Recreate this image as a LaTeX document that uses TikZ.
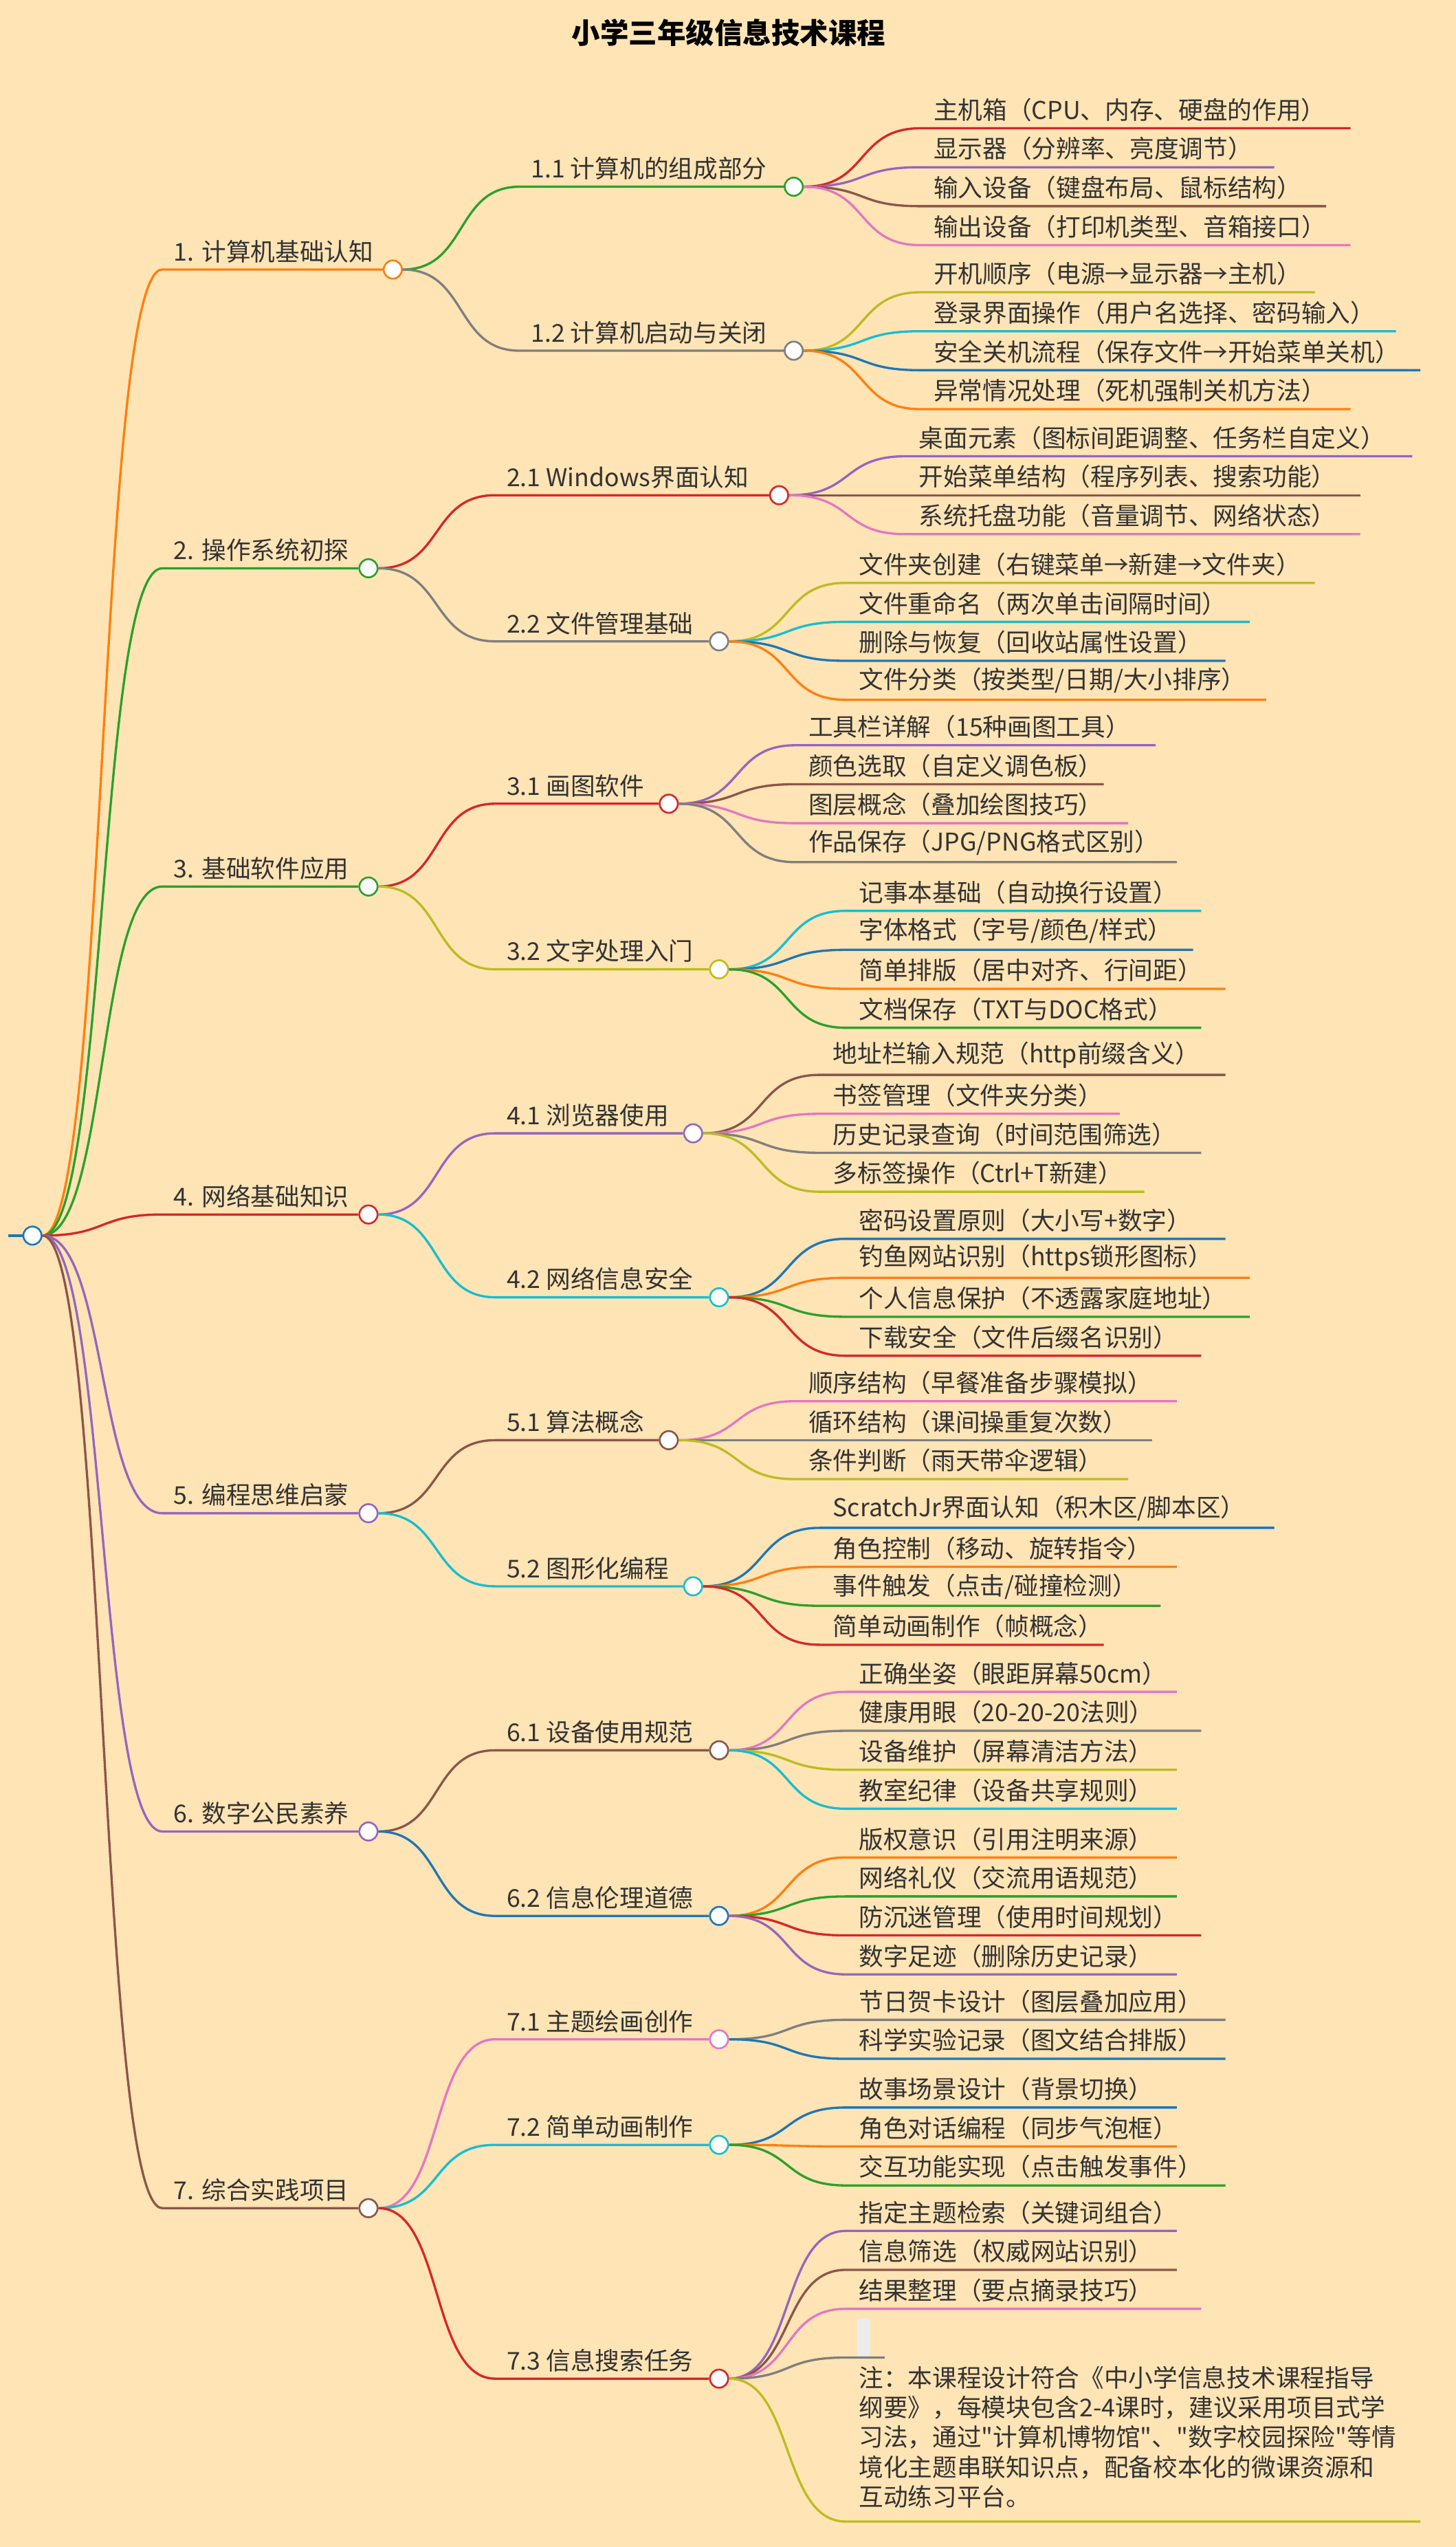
\documentclass[tikz,border=0pt]{standalone}
\usepackage{fontspec}
\setmainfont{Noto Sans CJK SC}[Ligatures=TeXOff]
\usetikzlibrary{positioning}
\definecolor{mmOrange}{HTML}{FF7F0E}
\definecolor{mmGreen}{HTML}{2CA02C}
\definecolor{mmRed}{HTML}{D62728}
\definecolor{mmPurple}{HTML}{9467BD}
\definecolor{mmBrown}{HTML}{8C564B}
\definecolor{mmPink}{HTML}{E377C2}
\definecolor{mmGray}{HTML}{7F7F7F}
\definecolor{mmOlive}{HTML}{BCBD22}
\definecolor{mmCyan}{HTML}{17BECF}
\definecolor{mmBlue}{HTML}{1F77B4}
\definecolor{mmBack}{HTML}{FFE4B5}
\definecolor{mmText}{HTML}{333333}
\tikzset{
  lbl/.style={inner sep=0pt, text=mmText, font=\fontsize{21.5}{26}\selectfont},
  dot/.style={circle, fill=white, line width=1.6pt, minimum size=0.56cm, inner sep=0pt},
  link/.style={line width=2pt},
}
% name, parent, start x, y, circle x, colour, text
\newcommand\mmbranch[7]{%
  \node[lbl, anchor=south west] (#1t) at (#3+7,#4-4) {#7};
  \node[dot, draw=#6] (#1) at (#5,#4) {};
  \draw[#6, link] (#2.east) .. controls +(40,0) and +(-40,0) .. (#3,#4) -- (#1.west);
}
% name, parent, start x, y, end x, colour, text
\newcommand\mmleaf[7]{%
  \node[lbl, anchor=south west] (#1) at (#3+8,#4-4) {#7};
  \coordinate (#1e) at (#5,#4);
  \draw[#6, link] (#2.east) .. controls +(40,0) and +(-40,0) .. (#3,#4) -- (#1e);
}
\begin{document}
\begin{tikzpicture}[x=0.05cm, y=-0.05cm]
  \fill[mmBack] (0,0) rectangle (897,1568.7);
  \useasboundingbox (0,0) rectangle (897,1568.7);

  % Title
  \node[font=\fontsize{25}{30}\selectfont\bfseries] (title) at (449,20) {小学三年级信息技术课程};

  % Root
  \coordinate (rootw) at (5,761);
  \node[dot, draw=mmBlue] (root) at (20,761) {};
  \draw[mmBlue, link] (rootw) -- (root.west);

  % 1
  \mmbranch{n1}{root}{100}{166}{242}{mmOrange}{1. 计算机基础认知}
  \mmbranch{n11}{n1}{320}{115}{489}{mmGreen}{1.1 计算机的组成部分}
  \mmleaf{n111}{n11}{567}{79}{832}{mmRed}{主机箱（CPU、内存、硬盘的作用）}
  \mmleaf{n112}{n11}{567}{103}{785}{mmPurple}{显示器（分辨率、亮度调节）}
  \mmleaf{n113}{n11}{567}{127}{817}{mmBrown}{输入设备（键盘布局、鼠标结构）}
  \mmleaf{n114}{n11}{567}{151}{832}{mmPink}{输出设备（打印机类型、音箱接口）}
  \mmbranch{n12}{n1}{320}{216}{489}{mmGray}{1.2 计算机启动与关闭}
  \mmleaf{n121}{n12}{567}{180}{810}{mmOlive}{开机顺序（电源→显示器→主机）}
  \mmleaf{n122}{n12}{567}{204}{860}{mmCyan}{登录界面操作（用户名选择、密码输入）}
  \mmleaf{n123}{n12}{567}{228}{875}{mmBlue}{安全关机流程（保存文件→开始菜单关机）}
  \mmleaf{n124}{n12}{567}{252}{832}{mmOrange}{异常情况处理（死机强制关机方法）}

  % 2
  \mmbranch{n2}{root}{100}{350}{227}{mmGreen}{2. 操作系统初探}
  \mmbranch{n21}{n2}{305}{305}{480}{mmRed}{2.1 Windows界面认知}
  \mmleaf{n211}{n21}{558}{281}{870}{mmPurple}{桌面元素（图标间距调整、任务栏自定义）}
  \mmleaf{n212}{n21}{558}{305}{838}{mmBrown}{开始菜单结构（程序列表、搜索功能）}
  \mmleaf{n213}{n21}{558}{329}{838}{mmPink}{系统托盘功能（音量调节、网络状态）}
  \mmbranch{n22}{n2}{305}{395}{443}{mmGray}{2.2 文件管理基础}
  \mmleaf{n221}{n22}{521}{359}{810}{mmOlive}{文件夹创建（右键菜单→新建→文件夹）}
  \mmleaf{n222}{n22}{521}{383}{770}{mmCyan}{文件重命名（两次单击间隔时间）}
  \mmleaf{n223}{n22}{521}{407}{755}{mmBlue}{删除与恢复（回收站属性设置）}
  \mmleaf{n224}{n22}{521}{431}{780}{mmOrange}{文件分类（按类型/日期/大小排序）}

  % 3
  \mmbranch{n3}{root}{100}{546}{227}{mmGreen}{3. 基础软件应用}
  \mmbranch{n31}{n3}{305}{495}{412}{mmRed}{3.1 画图软件}
  \mmleaf{n311}{n31}{490}{459}{712}{mmPurple}{工具栏详解（15种画图工具）}
  \mmleaf{n312}{n31}{490}{483}{680}{mmBrown}{颜色选取（自定义调色板）}
  \mmleaf{n313}{n31}{490}{507}{695}{mmPink}{图层概念（叠加绘图技巧）}
  \mmleaf{n314}{n31}{490}{531}{725}{mmGray}{作品保存（JPG/PNG格式区别）}
  \mmbranch{n32}{n3}{305}{597}{443}{mmOlive}{3.2 文字处理入门}
  \mmleaf{n321}{n32}{521}{561}{740}{mmCyan}{记事本基础（自动换行设置）}
  \mmleaf{n322}{n32}{521}{585}{735}{mmBlue}{字体格式（字号/颜色/样式）}
  \mmleaf{n323}{n32}{521}{609}{755}{mmOrange}{简单排版（居中对齐、行间距）}
  \mmleaf{n324}{n32}{521}{633}{740}{mmGreen}{文档保存（TXT与DOC格式）}

  % 4
  \mmbranch{n4}{root}{100}{748}{227}{mmRed}{4. 网络基础知识}
  \mmbranch{n41}{n4}{305}{698}{427}{mmPurple}{4.1 浏览器使用}
  \mmleaf{n411}{n41}{505}{662}{755}{mmBrown}{地址栏输入规范（http前缀含义）}
  \mmleaf{n412}{n41}{505}{686}{690}{mmPink}{书签管理（文件夹分类）}
  \mmleaf{n413}{n41}{505}{710}{740}{mmGray}{历史记录查询（时间范围筛选）}
  \mmleaf{n414}{n41}{505}{734}{705}{mmOlive}{多标签操作（Ctrl+T新建）}
  \mmbranch{n42}{n4}{305}{799}{443}{mmCyan}{4.2 网络信息安全}
  \mmleaf{n421}{n42}{521}{763}{755}{mmBlue}{密码设置原则（大小写+数字）}
  \mmleaf{n422}{n42}{521}{787}{770}{mmOrange}{钓鱼网站识别（https锁形图标）}
  \mmleaf{n423}{n42}{521}{811}{770}{mmGreen}{个人信息保护（不透露家庭地址）}
  \mmleaf{n424}{n42}{521}{835}{740}{mmRed}{下载安全（文件后缀名识别）}

  % 5
  \mmbranch{n5}{root}{100}{932}{227}{mmPurple}{5. 编程思维启蒙}
  \mmbranch{n51}{n5}{305}{887}{412}{mmBrown}{5.1 算法概念}
  \mmleaf{n511}{n51}{490}{863}{725}{mmPink}{顺序结构（早餐准备步骤模拟）}
  \mmleaf{n512}{n51}{490}{887}{710}{mmGray}{循环结构（课间操重复次数）}
  \mmleaf{n513}{n51}{490}{911}{695}{mmOlive}{条件判断（雨天带伞逻辑）}
  \mmbranch{n52}{n5}{305}{977}{427}{mmCyan}{5.2 图形化编程}
  \mmleaf{n521}{n52}{505}{941}{785}{mmBlue}{ScratchJr界面认知（积木区/脚本区）}
  \mmleaf{n522}{n52}{505}{965}{725}{mmOrange}{角色控制（移动、旋转指令）}
  \mmleaf{n523}{n52}{505}{989}{715}{mmGreen}{事件触发（点击/碰撞检测）}
  \mmleaf{n524}{n52}{505}{1013}{680}{mmRed}{简单动画制作（帧概念）}

  % 6
  \mmbranch{n6}{root}{100}{1128}{227}{mmPurple}{6. 数字公民素养}
  \mmbranch{n61}{n6}{305}{1078}{443}{mmBrown}{6.1 设备使用规范}
  \mmleaf{n611}{n61}{521}{1042}{725}{mmPink}{正确坐姿（眼距屏幕50cm）}
  \mmleaf{n612}{n61}{521}{1066}{740}{mmGray}{健康用眼（20-20-20法则）}
  \mmleaf{n613}{n61}{521}{1090}{725}{mmOlive}{设备维护（屏幕清洁方法）}
  \mmleaf{n614}{n61}{521}{1114}{725}{mmCyan}{教室纪律（设备共享规则）}
  \mmbranch{n62}{n6}{305}{1180}{443}{mmBlue}{6.2 信息伦理道德}
  \mmleaf{n621}{n62}{521}{1144}{725}{mmOrange}{版权意识（引用注明来源）}
  \mmleaf{n622}{n62}{521}{1168}{725}{mmGreen}{网络礼仪（交流用语规范）}
  \mmleaf{n623}{n62}{521}{1192}{740}{mmRed}{防沉迷管理（使用时间规划）}
  \mmleaf{n624}{n62}{521}{1216}{725}{mmPurple}{数字足迹（删除历史记录）}

  % 7
  \mmbranch{n7}{root}{100}{1360}{227}{mmBrown}{7. 综合实践项目}
  \mmbranch{n71}{n7}{305}{1256}{443}{mmPink}{7.1 主题绘画创作}
  \mmleaf{n711}{n71}{521}{1244}{755}{mmGray}{节日贺卡设计（图层叠加应用）}
  \mmleaf{n712}{n71}{521}{1268}{755}{mmBlue}{科学实验记录（图文结合排版）}
  \mmbranch{n72}{n7}{305}{1321}{443}{mmCyan}{7.2 简单动画制作}
  \mmleaf{n721}{n72}{521}{1298}{725}{mmBlue}{故事场景设计（背景切换）}
  \mmleaf{n722}{n72}{521}{1322}{725}{mmOrange}{角色对话编程（同步气泡框）}
  \mmleaf{n723}{n72}{521}{1346}{755}{mmGreen}{交互功能实现（点击触发事件）}
  \mmbranch{n73}{n7}{305}{1465}{443}{mmRed}{7.3 信息搜索任务}
  \mmleaf{n731}{n73}{521}{1374}{725}{mmPurple}{指定主题检索（关键词组合）}
  \mmleaf{n732}{n73}{521}{1398}{725}{mmBrown}{信息筛选（权威网站识别）}
  \mmleaf{n733}{n73}{521}{1422}{740}{mmPink}{结果整理（要点摘录技巧）}
  \fill[gray!15, rounded corners=1pt] (528,1428) rectangle (536,1452);
  \mmleaf{n734}{n73}{521}{1452}{545}{mmGray}{}
  \mmleaf{n735}{n73}{521}{1553}{875}{mmOlive}{\begin{tabular}{@{}l@{}}注：本课程设计符合《中小学信息技术课程指导\\纲要》，每模块包含2-4课时，建议采用项目式学\\习法，通过"计算机博物馆"、"数字校园探险"等情\\境化主题串联知识点，配备校本化的微课资源和\\互动练习平台。\end{tabular}}
\end{tikzpicture}
\end{document}
